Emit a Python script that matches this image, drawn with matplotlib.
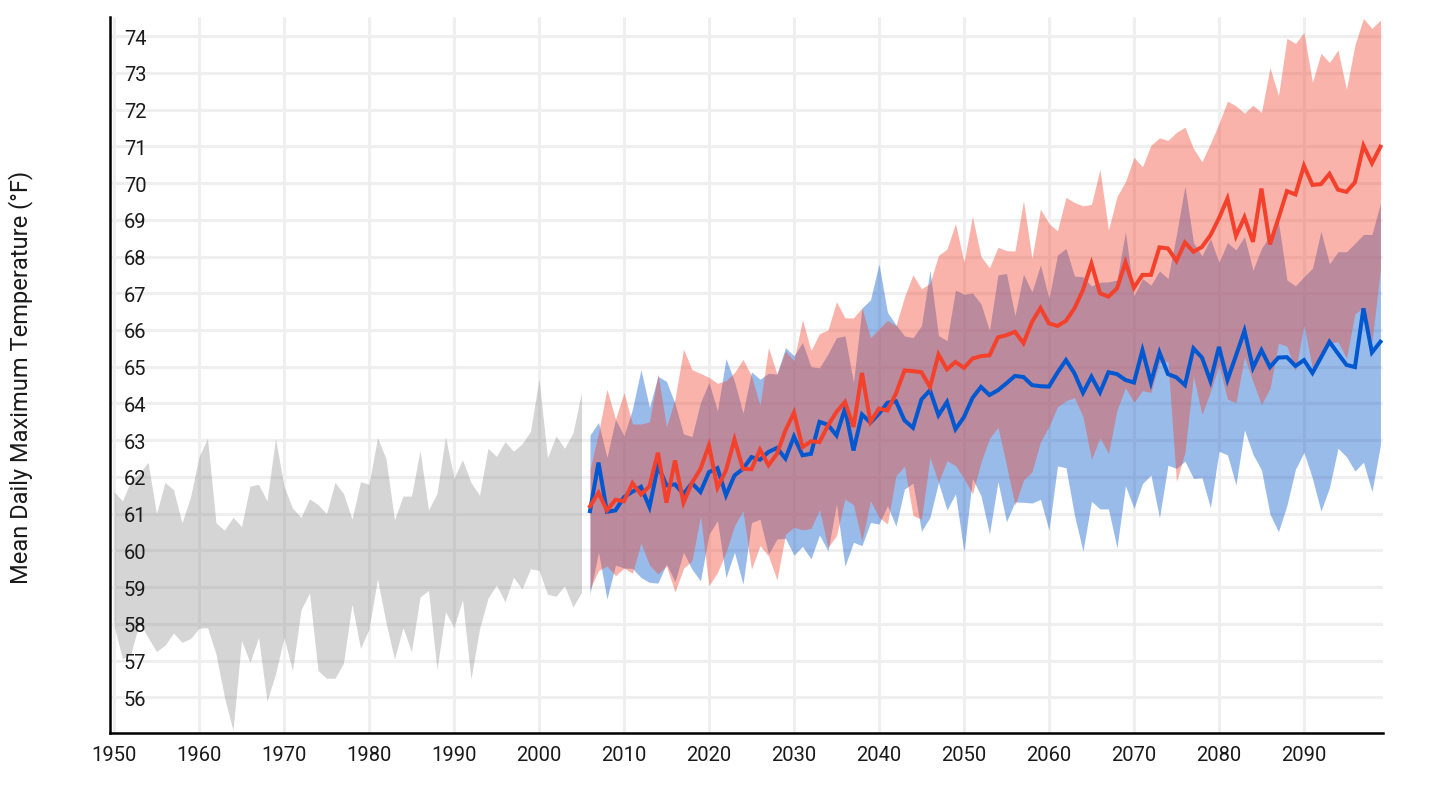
import numpy as np
import matplotlib
matplotlib.use("Agg")
import matplotlib.pyplot as plt

plt.rcParams['font.family'] = ['Roboto', 'DejaVu Sans']

# observed range 1950-2005
hist_years = np.arange(1950, 2006)
hist_high = [61.6, 61.35, 61.9, 62.1, 62.4, 61.0, 61.85, 61.65, 60.75, 61.45,
             62.55, 63.05, 60.75, 60.55, 60.9, 60.65, 61.75, 61.8, 61.35, 63.05,
             61.75, 61.15, 60.9, 61.4, 61.25, 61.0, 61.85, 61.55, 60.85, 61.87,
             61.8, 63.07, 62.5, 60.83, 61.48, 61.48, 62.72, 61.1, 61.55, 63.1,
             61.97, 62.47, 61.85, 61.5, 62.78, 62.56, 62.96, 62.7, 62.9, 63.24,
             64.67, 62.52, 63.12, 62.78, 63.2, 64.3]
hist_low = [57.95, 57.05, 57.2, 58.04, 57.63, 57.25, 57.42, 57.75, 57.5, 57.6,
            57.88, 57.9, 57.18, 56.0, 55.1, 57.55, 56.95, 57.63, 55.9, 56.63,
            57.63, 56.73, 58.38, 58.84, 56.73, 56.52, 56.52, 56.93, 58.54, 57.33,
            57.86, 59.22, 58.04, 57.04, 57.9, 57.24, 58.73, 58.91, 56.75, 58.33,
            57.9, 58.66, 56.5, 57.86, 58.7, 59.06, 58.6, 59.27, 58.95, 59.5,
            59.46, 58.81, 58.75, 59.04, 58.46, 58.86]

# projections 2006-2099
proj_years = np.arange(2006, 2100)
blue_mean = [61.07, 62.39, 61.05, 61.09, 61.45, 61.6, 61.73, 61.18, 62.3, 61.77,
             61.8, 61.54, 61.83, 61.59, 62.13, 62.24, 61.5, 62.04, 62.22, 62.54,
             62.47, 62.68, 62.79, 62.5, 63.1, 62.59, 62.63, 63.5, 63.42, 63.13,
             63.86, 62.72, 63.7, 63.48, 63.72, 64.02, 64.06, 63.54, 63.34, 64.11,
             64.36, 63.68, 64.04, 63.3, 63.63, 64.15, 64.45, 64.23, 64.36, 64.55,
             64.75, 64.72, 64.5, 64.47, 64.46, 64.84, 65.18, 64.82, 64.29, 64.73,
             64.3, 64.85, 64.8, 64.64, 64.57, 65.45, 64.57, 65.39, 64.8, 64.71,
             64.5, 65.5, 65.25, 64.61, 65.54, 64.64, 65.3, 65.98, 64.97, 65.45,
             64.99, 65.25, 65.26, 65.02, 65.18, 64.83, 65.25, 65.68, 65.36, 65.05,
             64.99, 66.59, 65.39, 65.68]
blue_high = [63.14, 63.48, 62.53, 63.57, 63.12, 63.85, 64.92, 63.89, 64.74, 64.6,
             64.0, 63.17, 63.1, 64.03, 64.57, 63.8, 65.22, 64.6, 63.74, 64.86,
             64.66, 64.82, 64.8, 65.52, 65.3, 65.66, 65.0, 64.97, 65.35, 65.79,
             65.84, 64.58, 66.6, 66.82, 67.8, 66.48, 66.14, 65.84, 65.79, 66.12,
             67.62, 65.85, 65.71, 67.09, 66.97, 67.01, 66.71, 65.99, 67.5, 67.54,
             66.39, 67.52, 67.04, 67.77, 66.86, 68.04, 68.22, 67.47, 67.45, 67.2,
             67.3, 67.31, 67.36, 68.68, 66.93, 67.4, 67.22, 67.61, 67.4, 68.6,
             69.92, 68.38, 68.02, 68.49, 67.84, 68.38, 68.18, 68.54, 67.63, 68.22,
             68.58, 68.95, 67.36, 67.2, 67.45, 67.68, 68.69, 67.8, 68.13, 68.13,
             68.36, 68.6, 68.6, 69.45]
blue_low = [58.81, 59.95, 58.68, 59.6, 59.52, 59.51, 59.26, 59.13, 59.11, 59.63,
            59.15, 59.95, 59.49, 59.17, 60.44, 60.81, 59.26, 59.95, 59.08, 60.76,
            60.85, 59.9, 60.31, 60.33, 59.87, 60.11, 59.77, 60.42, 59.99, 61.26,
            59.57, 60.22, 60.13, 60.76, 60.72, 61.22, 60.66, 61.67, 61.83, 60.52,
            60.9, 61.85, 61.1, 61.54, 59.95, 61.96, 61.49, 60.45, 61.87, 60.78,
            61.32, 61.31, 61.29, 61.39, 60.55, 62.3, 62.25, 60.96, 59.98, 61.34,
            61.13, 61.13, 60.07, 61.76, 61.14, 61.82, 62.05, 60.89, 62.32, 62.23,
            62.43, 61.96, 61.98, 61.16, 62.7, 62.6, 61.78, 63.28, 62.62, 62.19,
            60.99, 60.51, 61.23, 62.21, 62.67, 61.96, 61.07, 61.71, 62.78, 62.55,
            62.16, 62.4, 61.6, 62.87]
red_mean = [61.2, 61.57, 61.09, 61.38, 61.34, 61.83, 61.52, 61.75, 62.66, 61.3,
            62.45, 61.3, 61.84, 62.22, 62.86, 61.71, 62.18, 63.02, 62.22, 62.21,
            62.74, 62.32, 62.63, 63.27, 63.75, 62.81, 62.97, 62.95, 63.4, 63.77,
            64.04, 63.36, 64.83, 63.5, 63.86, 63.81, 64.27, 64.9, 64.88, 64.85,
            64.45, 65.33, 64.93, 65.13, 64.97, 65.22, 65.29, 65.31, 65.8, 65.86,
            65.95, 65.64, 66.22, 66.6, 66.18, 66.11, 66.25, 66.59, 67.09, 67.81,
            67.0, 66.91, 67.13, 67.84, 67.15, 67.5, 67.5, 68.25, 68.22, 67.88,
            68.38, 68.13, 68.26, 68.58, 69.04, 69.58, 68.56, 69.07, 68.4, 69.85,
            68.33, 69.04, 69.78, 69.69, 70.47, 69.95, 69.97, 70.25, 69.82, 69.76,
            70.02, 71.02, 70.54, 70.99]
red_high = [62.2, 63.2, 64.39, 63.57, 64.3, 63.44, 63.44, 63.5, 64.8, 63.36,
            64.12, 65.48, 64.92, 64.82, 64.71, 64.55, 64.62, 64.84, 65.2, 64.75,
            63.95, 65.52, 64.8, 65.43, 65.16, 66.28, 65.44, 65.9, 66.0, 66.77,
            66.33, 66.33, 66.6, 65.79, 66.03, 66.26, 66.12, 66.9, 67.5, 67.12,
            67.27, 68.03, 68.2, 68.9, 67.85, 69.09, 68.0, 67.69, 68.25, 68.16,
            68.15, 69.52, 67.95, 69.29, 68.9, 68.7, 69.61, 69.47, 69.38, 69.42,
            70.37, 68.72, 69.63, 70.04, 70.7, 70.44, 71.03, 71.23, 71.16, 71.38,
            71.52, 70.94, 70.58, 71.08, 71.62, 72.23, 72.1, 71.9, 72.12, 71.92,
            73.14, 72.38, 73.94, 73.8, 74.1, 72.74, 73.53, 73.28, 73.62, 72.55,
            73.76, 74.48, 74.21, 74.44]
red_low = [58.95, 59.45, 59.58, 59.31, 59.52, 59.38, 60.2, 59.6, 59.36, 59.58,
           58.87, 59.51, 59.72, 60.93, 59.04, 59.4, 59.95, 60.67, 61.08, 59.49,
           60.13, 59.85, 59.2, 60.44, 60.63, 60.56, 60.6, 61.11, 60.08, 60.4,
           61.4, 61.24, 60.26, 61.35, 60.9, 60.72, 62.03, 62.29, 60.95, 60.85,
           62.53, 61.85, 62.44, 62.31, 61.96, 61.54, 62.4, 63.05, 63.35, 62.32,
           61.23, 61.91, 62.14, 62.96, 63.37, 63.91, 64.07, 64.16, 63.64, 62.48,
           63.07, 62.64, 63.82, 64.43, 64.03, 64.35, 64.3, 65.12, 65.14, 61.87,
           62.67, 64.75, 63.7, 64.32, 65.03, 64.12, 64.02, 65.27, 64.59, 63.97,
           64.41, 65.64, 65.56, 64.88, 66.13, 64.95, 65.27, 65.65, 65.68, 65.23,
           66.45, 66.59, 65.68, 67.66]

x_ticks = list(range(1950, 2100, 10))
y_ticks = list(range(56, 75))

fig = plt.figure(figsize=(14.54, 8.04), dpi=100)
ax = fig.add_axes([110 / 1454, 1 - 734 / 804, (1383 - 110) / 1454, (734 - 18) / 804])

# grid drawn by hand so that it stays under the fills but tick labels stay on top
x0, x1 = 1949.53, 2099.3
y0, y1 = 55.03, 74.52
ax.hlines(y_ticks, x0, x1, color='#efefef', linewidth=2.2, zorder=0)
ax.vlines(x_ticks, y0, y1, color='#efefef', linewidth=2.2, zorder=0)

ax.fill_between(hist_years, hist_low, hist_high, color='#808080', alpha=0.33, linewidth=0, zorder=1)
ax.fill_between(proj_years, blue_low, blue_high, color='#0255ca', alpha=0.4, linewidth=0, zorder=1.1)
ax.fill_between(proj_years, red_low, red_high, color='#f2412d', alpha=0.4, linewidth=0, zorder=1.2)
ax.plot(proj_years, blue_mean, color='#0058d0', linewidth=2.9, solid_joinstyle='miter', zorder=2)
ax.plot(proj_years, red_mean, color='#f4412b', linewidth=2.9, solid_joinstyle='miter', zorder=2.1)

ax.set_xlim(x0, x1)
ax.set_ylim(y0, y1)
ax.set_xticks(x_ticks)
ax.set_yticks(y_ticks)
ax.tick_params(axis='x', length=0, pad=9, labelsize=14.5, labelcolor='#1a1a1a')
ax.tick_params(axis='y', length=0, pad=-10, labelsize=14.5, labelcolor='#1a1a1a')
for label in ax.get_yticklabels():
    label.set_horizontalalignment('left')

ax.spines['top'].set_visible(False)
ax.spines['right'].set_visible(False)
ax.spines['left'].set_linewidth(1.8)
ax.spines['bottom'].set_linewidth(1.8)

fig.text(21 / 1454, 1 - 377 / 804, "Mean Daily Maximum Temperature (°F)", rotation=90,
         ha='center', va='center', fontsize=17, color='#1a1a1a')

fig.savefig("out.png", dpi=100)
